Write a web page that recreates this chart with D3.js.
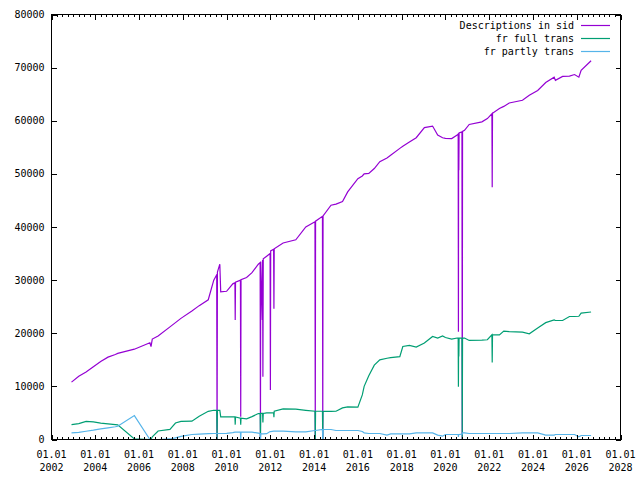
<!DOCTYPE html>
<html lang="en">
<head>
  <meta charset="UTF-8">
  <title>Descriptions in sid</title>
  <script src="https://d3js.org/d3.v7.min.js"></script>
  <style>
    body { margin: 0; background: #fff; }
    text { font-family: "DejaVu Sans Mono", monospace; font-size: 10px; fill: #000; }
    .axis line { stroke: #000; stroke-width: 1; shape-rendering: crispEdges; }
    .series { fill: none; stroke-width: 1.2; stroke-linejoin: miter; }
  </style>
</head>
<body>
<div id="chart"></div>
<script>
// Data
const dates = [
  "2002-12-01","2003-04-01","2003-08-01","2003-12-01","2004-04-01","2004-08-01","2004-12-01","2005-01-10",
  "2005-10-15","2006-07-01","2006-07-20","2006-08-10","2006-11-15","2007-06-01","2007-09-01","2007-12-01",
  "2008-06-01","2008-10-01","2009-03-01","2009-06-01","2009-07-20","2009-07-26","2009-08-01","2009-09-10",
  "2009-09-25","2010-01-01","2010-04-15","2010-05-20","2010-05-25","2010-05-30","2010-08-20","2010-08-25",
  "2010-08-30","2010-12-01","2011-03-01","2011-06-15","2011-07-15","2011-07-20","2011-07-25","2011-08-20",
  "2011-08-25","2011-08-30","2011-09-05","2011-11-01","2011-12-28","2012-01-02","2012-01-07","2012-02-25",
  "2012-03-01","2012-03-06","2012-08-01","2013-03-01","2013-08-15","2014-01-15","2014-01-20","2014-01-25",
  "2014-05-20","2014-05-25","2014-05-30","2014-10-10","2015-01-01","2015-04-20","2015-07-15","2016-01-01",
  "2016-03-15","2016-04-15","2016-07-01","2016-10-01","2017-01-01","2017-05-01","2017-07-01","2017-12-01",
  "2018-01-20","2018-05-10","2018-09-01","2019-01-15","2019-06-01","2019-08-25","2019-11-15","2020-01-01",
  "2020-04-15","2020-07-15","2020-08-01","2020-08-05","2020-08-09","2020-08-12","2020-08-16","2020-10-03",
  "2020-10-08","2020-10-13","2020-11-15","2021-02-01","2021-09-01","2021-12-01","2022-02-15","2022-02-20",
  "2022-02-25","2022-06-20","2022-09-01","2022-12-01","2023-07-10","2023-11-01","2024-03-20","2024-08-01",
  "2024-12-20","2025-01-10","2025-05-10","2025-09-01","2025-11-25","2026-02-05","2026-03-15","2026-08-28"
];
const sidValues = [
  10800,11900,12700,13700,14700,15500,16000,16200,
  17000,18200,17500,18900,19500,21200,22000,22800,
  24200,25200,26300,30000,31000,0,31500,33000,
  27800,27900,29300,29500,22500,29600,30000,4300,
  30100,30500,31400,33000,33300,0,33500,22500,
  33800,11800,34000,34500,35000,9300,35500,35800,
  24600,35900,37000,37600,40000,41000,0,41100,
  42000,0,42100,44100,44300,44800,46600,49100,
  49600,50000,50100,51000,52300,53000,53500,54800,
  55200,56000,56800,58700,59000,57300,56800,56700,
  56650,57300,57500,20300,57600,50700,57700,57900,
  0,58000,58200,59300,59800,60400,61300,47500,
  61400,62300,62700,63350,63850,64800,65700,67200,
  68200,67600,68350,68400,68700,68200,69500,71300
];
const fullValues = [
  2800,3000,3400,3300,3100,2950,2800,2750,
  100,0,0,500,1600,1900,3100,3400,
  3450,4380,5300,5500,5500,0,5500,5500,
  4250,4250,4250,4250,2800,4250,4000,2800,
  4000,3900,4300,4880,4900,0,4900,4900,
  4900,3200,4900,5000,5000,5000,5000,5000,
  4200,5320,5760,5700,5500,5320,0,5320,
  5320,0,5320,5300,5320,5950,6130,6100,
  8400,10000,12000,14000,15000,15300,15400,15600,
  17500,17700,17400,18150,19400,19100,19500,19200,
  18900,19100,19100,9950,19100,15600,19100,19100,
  0,19100,19100,18650,18700,18780,19700,14500,
  19700,19700,20400,20300,20200,19900,21000,22000,
  22500,22400,22400,23150,23150,23200,23800,24000
];
const partlyValues = [
  1250,1350,1550,1750,2000,2200,2400,2500,
  4500,0,0,0,0,100,300,600,
  940,1000,1100,1130,1130,1130,1130,1130,
  1130,1150,1300,1380,1380,1380,1380,0,
  1380,1380,1380,1200,1100,0,1100,1060,
  1060,1060,1060,1100,1500,1500,1500,1560,
  1560,1560,1560,1440,1440,1690,1690,1690,
  1880,0,1880,1880,1690,1690,1690,1690,
  1500,1250,1130,1130,1130,820,1060,1060,
  1060,1060,1250,1250,1250,820,630,940,
  940,940,940,500,940,940,940,1000,
  1000,1250,1250,1130,1130,1130,1130,1130,
  1130,1130,1130,1130,1250,1250,1250,820,
  820,940,940,940,940,500,750,750
];
const seriesNames = ["Descriptions in sid", "fr full trans", "fr partly trans"];
const seriesColors = ["#9400d3", "#009e73", "#56b4e9"];
const yTicks = [0, 10000, 20000, 30000, 40000, 50000, 60000, 70000, 80000];
const xTickYears = [2002, 2004, 2006, 2008, 2010, 2012, 2014, 2016, 2018, 2020, 2022, 2024, 2026, 2028];

const W = 640, H = 480;
const plotL = 51.5, plotR = 620.5, plotT = 14.5, plotB = 439.5;

const parse = d3.timeParse("%Y-%m-%d");
const dateObjs = dates.map(parse);
const allValues = [sidValues, fullValues, partlyValues];

const svg = d3.select("#chart").append("svg")
  .attr("width", W).attr("height", H);

const x = d3.scaleTime()
  .domain([new Date(2002, 0, 1), new Date(2028, 0, 1)])
  .range([plotL, plotR]);
const y = d3.scaleLinear()
  .domain([0, 80000])
  .range([plotB, plotT]);

const majorDates = xTickYears.map(yr => new Date(yr, 0, 1));
const minorDates = d3.timeMonth.every(3)
  .range(new Date(2002, 0, 1), new Date(2028, 0, 1))
  .filter(d => d.getMonth() !== 0 || d.getFullYear() % 2 !== 0);

// series lines
const line = d3.line()
  .x(d => x(d.date))
  .y(d => y(d.v));

allValues.forEach((vals, i) => {
  const pts = dateObjs.map((d, j) => ({ date: d, v: vals[j] }));
  svg.append("path")
    .datum(pts)
    .attr("class", "series")
    .attr("stroke", seriesColors[i])
    .attr("d", line);
});

// ticks, mirrored on all four sides, pointing inward
function tickAxis(axisFn, pos, scale, values, size) {
  const g = svg.append("g").attr("class", "axis").attr("transform", pos)
    .call(axisFn(scale).tickValues(values).tickSizeInner(-size).tickSizeOuter(0).tickFormat(""));
  g.select(".domain").remove();
  g.selectAll("text").remove();
  return g;
}
tickAxis(d3.axisBottom, `translate(0,${plotB})`, x, majorDates, 5);
tickAxis(d3.axisBottom, `translate(0,${plotB})`, x, minorDates, 2.5);
tickAxis(d3.axisTop, `translate(0,${plotT})`, x, majorDates, 5);
tickAxis(d3.axisTop, `translate(0,${plotT})`, x, minorDates, 2.5);
tickAxis(d3.axisLeft, `translate(${plotL},0)`, y, yTicks, 5);
tickAxis(d3.axisRight, `translate(${plotR},0)`, y, yTicks, 5);

// border
svg.append("rect")
  .attr("x", plotL).attr("y", plotT)
  .attr("width", plotR - plotL).attr("height", plotB - plotT)
  .attr("fill", "none").attr("stroke", "#000").attr("stroke-width", 1)
  .attr("shape-rendering", "crispEdges");

// y tick labels
svg.selectAll(".ylab")
  .data(yTicks)
  .enter().append("text")
  .attr("x", 44.5)
  .attr("y", d => y(d) + 3.5)
  .attr("text-anchor", "end")
  .text(d => d);

// x tick labels (two lines)
const xl = svg.selectAll(".xlab")
  .data(xTickYears)
  .enter().append("text")
  .attr("text-anchor", "middle");
xl.append("tspan")
  .attr("x", d => x(new Date(d, 0, 1)))
  .attr("y", 458)
  .text("01.01");
xl.append("tspan")
  .attr("x", d => x(new Date(d, 0, 1)))
  .attr("y", 471)
  .text(d => d);

// legend
const leg = svg.selectAll(".leg")
  .data(seriesNames)
  .enter().append("g")
  .attr("transform", (d, i) => `translate(0,${25 + i * 13})`);
leg.append("text")
  .attr("x", 574)
  .attr("y", 3.5)
  .attr("text-anchor", "end")
  .text(d => d);
leg.append("line")
  .attr("x1", 581).attr("x2", 610)
  .attr("y1", 0.5).attr("y2", 0.5)
  .attr("stroke", (d, i) => seriesColors[i])
  .attr("stroke-width", 1.2);
</script>
</body>
</html>
